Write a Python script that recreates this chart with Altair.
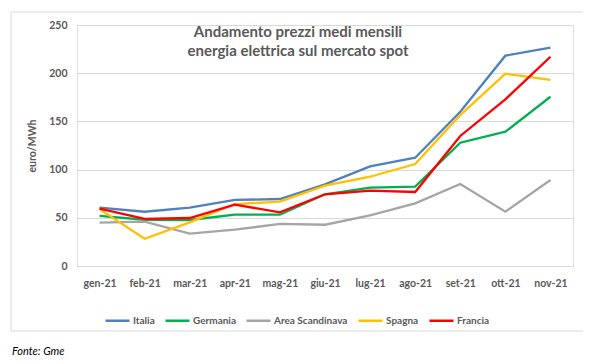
import altair as alt
import pandas as pd

months = ["gen-21", "feb-21", "mar-21", "apr-21", "mag-21", "giu-21",
          "lug-21", "ago-21", "set-21", "ott-21", "nov-21"]
series_names = ["Italia", "Germania", "Area Scandinava", "Spagna", "Francia"]
italia = [60.5, 56.3, 60.5, 68.5, 69.5, 84.7, 103.4, 112.3, 160.0, 218.2, 226.5]
germania = [52.0, 48.0, 47.7, 53.2, 53.2, 74.4, 81.2, 82.3, 127.9, 139.3, 175.6]
scandinava = [45.0, 46.0, 33.5, 37.7, 43.6, 42.8, 52.6, 65.0, 85.0, 56.3, 89.2]
spagna = [59.0, 28.3, 45.3, 64.3, 66.7, 83.3, 92.6, 105.8, 156.6, 199.5, 193.0]
francia = [59.5, 48.8, 49.8, 63.6, 55.7, 74.4, 78.1, 76.8, 134.9, 172.9, 217.1]
colors = ["#4F81BD", "#00B050", "#A5A5A5", "#FFC000", "#FF0000"]
y_ticks = [0, 50, 100, 150, 200, 250]
title_lines = ["Andamento prezzi medi mensili", "energia elettrica sul mercato spot"]
source_note = "Fonte: Gme"

rows = []
for name, vals in zip(series_names, [italia, germania, scandinava, spagna, francia]):
    for m, v in zip(months, vals):
        rows.append({"mese": m, "serie": name, "valore": v, "ord": series_names.index(name)})
df = pd.DataFrame(rows)

FONT = "Lato"
GREY = "#595959"

lines = alt.Chart(df).mark_line(strokeWidth=2.3).encode(
    x=alt.X("mese:O", sort=months,
            axis=alt.Axis(title=None, labelAngle=0, ticks=False, domain=False,
                          labelPadding=12, labelFontSize=10.5, labelFontWeight="bold",
                          labelColor=GREY, labelFont=FONT)),
    y=alt.Y("valore:Q", scale=alt.Scale(domain=[0, 250], nice=False),
            axis=alt.Axis(title="euro/MWh", values=y_ticks, ticks=False, domain=False,
                          gridColor="#D9D9D9", gridWidth=1, labelPadding=10,
                          labelFontSize=10.5, labelFontWeight="bold", labelColor=GREY,
                          labelFont=FONT, titleFont=FONT, titleFontSize=10.5,
                          titleFontWeight="bold", titleColor=GREY, titlePadding=11)),
    color=alt.Color("serie:N", sort=series_names,
                    scale=alt.Scale(domain=series_names, range=colors),
                    legend=alt.Legend(title=None, orient="none", legendX=27, legendY=282,
                                      direction="horizontal", symbolType="stroke",
                                      symbolSize=576, symbolStrokeWidth=2.5,
                                      labelFontSize=10, labelFontWeight="bold",
                                      labelColor=GREY, labelFont=FONT, labelOffset=2,
                                      columnPadding=5)),
    order=alt.Order("ord:Q"),
    detail="serie:N",
)

one = pd.DataFrame({"a": [0]})
border = alt.Chart(one).mark_rect(fill=None, stroke="#D9D9D9", strokeWidth=1).encode(
    x=alt.value(-66), x2=alt.value(508), y=alt.value(-13), y2=alt.value(306)
)
t1 = alt.Chart(one).mark_text(text=title_lines[0], font=FONT, fontSize=15, fontWeight="bold",
                              color=GREY, align="center", baseline="alphabetic").encode(
    x=alt.value(221), y=alt.value(12))
t2 = alt.Chart(one).mark_text(text=title_lines[1], font=FONT, fontSize=15, fontWeight="bold",
                              color=GREY, align="center", baseline="alphabetic").encode(
    x=alt.value(221), y=alt.value(31))
note = alt.Chart(one).mark_text(text=source_note, font=FONT, fontSize=11, fontStyle="italic",
                                color="#000000", align="left", baseline="alphabetic").encode(
    x=alt.value(-65), y=alt.value(330))

chart = alt.layer(border, lines, t1, t2, note).properties(
    width=496, height=241,
    autosize=alt.AutoSizeParams(type="none"),
    padding={"left": 69, "top": 17, "right": 10, "bottom": 97},
).configure_view(stroke=None).configure(background="white")

chart.save("out.html", embed_options={"renderer": "svg", "actions": False})
